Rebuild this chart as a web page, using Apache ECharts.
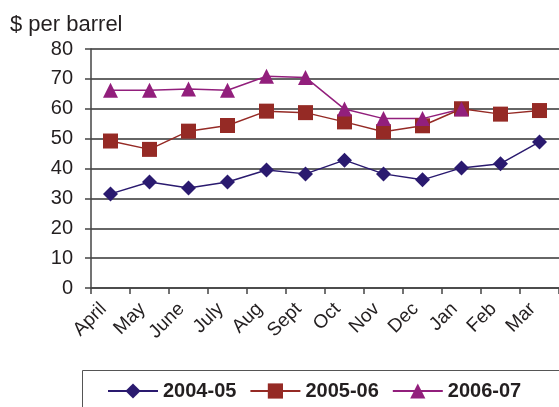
<!DOCTYPE html>
<html>
<head>
<meta charset="utf-8">
<script src="https://cdn.jsdelivr.net/npm/echarts@6/dist/echarts.min.js"></script>
<style>
  html, body { margin: 0; padding: 0; background: #fff; }
  #chart { width: 559px; height: 407px; }
</style>
</head>
<body>
<div id="chart"></div>
<script>
// Monthly oil price, $ per barrel, by financial year
const months = ['April', 'May', 'June', 'July', 'Aug', 'Sept', 'Oct', 'Nov', 'Dec', 'Jan', 'Feb', 'Mar'];
const fy2004 = [31.5, 35.5, 33.5, 35.5, 39.5, 38.2, 42.8, 38.2, 36.2, 40.2, 41.6, 48.9];
const fy2005 = [49.2, 46.4, 52.5, 54.4, 59.2, 58.7, 55.6, 52.3, 54.3, 60.0, 58.2, 59.4];
const fy2006 = [66.2, 66.2, 66.6, 66.2, 70.9, 70.5, 59.9, 56.7, 56.7, 59.9, null, null];
const yTicks = { min: 0, max: 80, interval: 10 };

const font = 'Liberation Sans, Arial, sans-serif';
const ink = '#231f20';

const chart = echarts.init(document.getElementById('chart'), null, { renderer: 'canvas' });

function lineSeries(name, data, color, symbol, size) {
  return {
    name, type: 'line', data,
    symbol, symbolSize: size,
    showAllSymbol: true,
    connectNulls: false,
    lineStyle: { color, width: 1.5 },
    itemStyle: { color },
    emphasis: { disabled: true },
    animation: false
  };
}

chart.setOption({
  animation: false,
  graphic: [
    {
      type: 'text', left: 10, top: 14,
      style: { text: '$ per barrel', font: '22px ' + font, fill: ink }
    },
    {
      type: 'rect', shape: { x: 82.5, y: 370.5, width: 500, height: 60 },
      style: { fill: 'none', stroke: '#555', lineWidth: 1 }
    }
  ],
  grid: { left: 91, right: 0, top: 49, bottom: 119, containLabel: false },
  legend: {
    data: ['2004-05', '2005-06', '2006-07'],
    left: 102, top: 376,
    itemWidth: 50, itemHeight: 19, itemGap: 13,
    textStyle: { fontFamily: font, fontSize: 20, fontWeight: 'bold', color: ink },
    selectedMode: false
  },
  xAxis: {
    type: 'category', data: months, boundaryGap: true,
    axisLine: { lineStyle: { color: '#444', width: 1.5 } },
    axisTick: { show: true, length: 6, lineStyle: { color: '#444', width: 1.5 } },
    axisLabel: {
      rotate: 45, fontFamily: font, fontSize: 19, color: ink,
      margin: 11, interval: 0, padding: [0, 10, 0, 0]
    }
  },
  yAxis: {
    type: 'value', min: yTicks.min, max: yTicks.max, interval: yTicks.interval,
    axisLine: { show: true, lineStyle: { color: '#444', width: 1.5 } },
    axisTick: { show: true, inside: false, length: 6, lineStyle: { color: '#444', width: 1.5 } },
    axisLabel: { fontFamily: font, fontSize: 20, color: ink, margin: 18 },
    splitLine: { show: true, lineStyle: { color: '#333', width: 1.5 } }
  },
  series: [
    lineSeries('2004-05', fy2004, '#2a1a6f', 'diamond', 15),
    lineSeries('2005-06', fy2005, '#952a25', 'rect', 15),
    lineSeries('2006-07', fy2006, '#921f7c', 'triangle', 15)
  ]
});
</script>
</body>
</html>
